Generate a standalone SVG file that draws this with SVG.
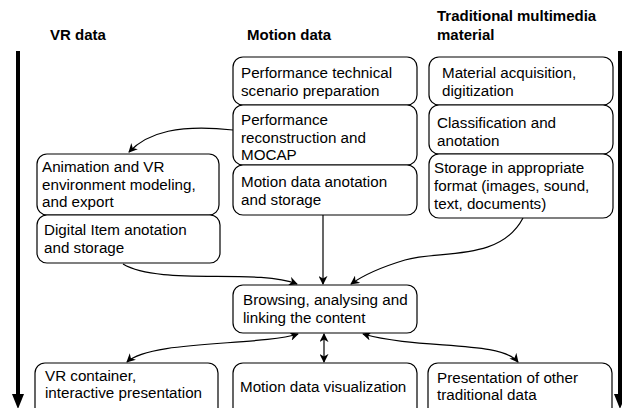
<svg xmlns="http://www.w3.org/2000/svg" width="622" height="408" viewBox="0 0 622 408">
<style>
.box{fill:#fff;stroke:#000;stroke-width:1.2}
.t{font-family:"Liberation Sans",Arial,sans-serif;font-size:15.2px;fill:#000}
.h{font-family:"Liberation Sans",Arial,sans-serif;font-size:15px;font-weight:bold;fill:#000}
.c{fill:none;stroke:#000;stroke-width:1.2}
</style>
<defs>
<marker id="a" viewBox="0 0 10 10" refX="9" refY="5" markerWidth="9" markerHeight="9" markerUnits="userSpaceOnUse" orient="auto-start-reverse">
<path d="M0,0 L10,5 L0,10 L3,5 Z" fill="#000"/>
</marker>
</defs>
<rect width="622" height="408" fill="#fff"/>
<g id="headers">
<text class="h" x="50" y="40">VR data</text>
<text class="h" x="247" y="40">Motion data</text>
<text class="h" x="437" y="21">Traditional multimedia</text>
<text class="h" x="437" y="40">material</text>
</g>
<g id="timeline-left">
<line x1="18" y1="51" x2="18" y2="398" stroke="#000" stroke-width="4"/>
<polygon points="12,394 24,394 18,409" fill="#000"/>
</g>
<g id="timeline-right">
<line x1="620" y1="51" x2="620" y2="398" stroke="#000" stroke-width="4"/>
<polygon points="614,394 626,394 620,409" fill="#000"/>
</g>
<g id="connectors">
<path class="c" d="M233,130 C180,124 148,132 129,152" marker-end="url(#a)"/>
<path class="c" d="M123,264 C160,286 255,268 297,284" marker-end="url(#a)"/>
<path class="c" d="M323,215 L323,284" marker-end="url(#a)"/>
<path class="c" d="M523,218 C500,262 440,250 405,260 C385,266 365,274 351,284" marker-end="url(#a)"/>
<path class="c" d="M298,334 C260,346 150,340 127,362" marker-start="url(#a)" marker-end="url(#a)"/>
<path class="c" d="M324,334 L324,362" marker-start="url(#a)" marker-end="url(#a)"/>
<path class="c" d="M363,334 C420,350 500,340 518,362" marker-start="url(#a)" marker-end="url(#a)"/>
</g>
<g id="n-perf-tech">
<rect class="box" x="233" y="57" width="184" height="48" rx="10"/>
<text class="t" x="241" y="78">Performance technical</text>
<text class="t" x="241" y="96">scenario preparation</text>
</g>
<g id="n-perf-recon">
<rect class="box" x="233" y="105" width="184" height="60" rx="10"/>
<text class="t" x="241" y="125">Performance</text>
<text class="t" x="241" y="143">reconstruction and</text>
<text class="t" x="241" y="160">MOCAP</text>
</g>
<g id="n-motion-anot">
<rect class="box" x="233" y="165" width="184" height="50" rx="10"/>
<text class="t" x="241" y="187">Motion data anotation</text>
<text class="t" x="241" y="205">and storage</text>
</g>
<g id="n-material">
<rect class="box" x="429" y="57" width="184" height="48" rx="10"/>
<text class="t" x="442" y="78">Material acquisition,</text>
<text class="t" x="442" y="96">digitization</text>
</g>
<g id="n-classif">
<rect class="box" x="429" y="105" width="184" height="49" rx="10"/>
<text class="t" x="437" y="128">Classification and</text>
<text class="t" x="437" y="146">anotation</text>
</g>
<g id="n-storage">
<rect class="box" x="429" y="154" width="184" height="64" rx="10"/>
<text class="t" x="434" y="173">Storage in appropriate</text>
<text class="t" x="434" y="191">format (images, sound,</text>
<text class="t" x="434" y="209">text, documents)</text>
</g>
<g id="n-animation">
<rect class="box" x="37" y="154" width="182" height="61" rx="10"/>
<text class="t" x="42" y="172">Animation and VR</text>
<text class="t" x="42" y="190">environment modeling,</text>
<text class="t" x="42" y="207">and export</text>
</g>
<g id="n-digital">
<rect class="box" x="37" y="215" width="183" height="48" rx="10"/>
<text class="t" x="44" y="235">Digital Item anotation</text>
<text class="t" x="44" y="253">and storage</text>
</g>
<g id="n-browsing">
<rect class="box" x="233" y="285" width="184" height="48" rx="10"/>
<text class="t" x="243" y="305">Browsing, analysing and</text>
<text class="t" x="243" y="323">linking the content</text>
</g>
<g id="n-vr-container">
<rect class="box" x="35" y="363" width="183" height="60" rx="10"/>
<text class="t" x="45" y="381">VR container,</text>
<text class="t" x="45" y="398">interactive presentation</text>
</g>
<g id="n-motion-vis">
<rect class="box" x="233" y="363" width="184" height="60" rx="10"/>
<text class="t" x="240" y="392">Motion data visualization</text>
</g>
<g id="n-presentation">
<rect class="box" x="428" y="363" width="184" height="60" rx="10"/>
<text class="t" x="437" y="383">Presentation of other</text>
<text class="t" x="437" y="400">traditional data</text>
</g>
</svg>
